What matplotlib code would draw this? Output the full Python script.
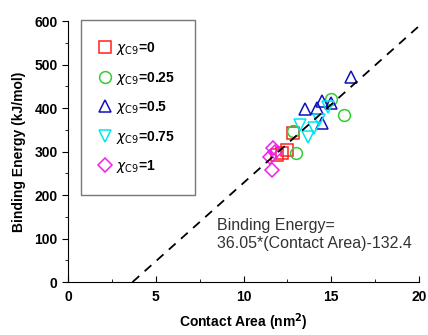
import matplotlib
matplotlib.use("Agg")
import matplotlib.pyplot as plt
import numpy as np
from matplotlib.ticker import MultipleLocator

plt.rcParams['font.family'] = ['Liberation Sans', 'DejaVu Sans']

# data
x0 = [11.9, 12.2, 12.5, 12.8]
y0 = [292, 296, 303, 343]
x25 = [12.8, 13.0, 15.0, 15.7]
y25 = [347, 297, 422, 385]
x50 = [13.5, 14.2, 14.5, 15.0, 14.5, 16.1]
y50 = [397, 400, 417, 411, 365, 471]
x75 = [13.2, 13.7, 14.0, 14.8, 14.3]
y75 = [362, 333, 354, 403, 372]
x100 = [11.7, 11.5, 11.6, 11.8]
y100 = [308, 288, 257, 300]

slope, intercept = 36.05, -132.4
labels = [r'$\chi_{\mathrm{C9}}$=0', r'$\chi_{\mathrm{C9}}$=0.25', r'$\chi_{\mathrm{C9}}$=0.5',
          r'$\chi_{\mathrm{C9}}$=0.75', r'$\chi_{\mathrm{C9}}$=1']

fig = plt.figure(figsize=(4.28, 3.35), dpi=100)
ax = fig.add_axes([0.159, 0.158, 0.820, 0.779])

series = [(x0, y0, 's', '#ff2020'), (x25, y25, 'o', '#33cc33'), (x50, y50, '^', '#1010c0'),
          (x75, y75, 'v', '#00e5ee'), (x100, y100, 'D', '#ee20ee')]
for (xs, ys, m, c), lab in zip(series, labels):
    ms = 7 if m == 'D' else 8.5
    ax.plot(xs, ys, linestyle='none', marker=m, markersize=ms, markerfacecolor='none',
            markeredgecolor=c, markeredgewidth=1.1, label=lab)

xl = np.array([-intercept / slope, 20])
ax.plot(xl, slope * xl + intercept, '--', color='black', lw=1.3, dashes=(5, 4))

ax.set_xlim(0, 20)
ax.set_ylim(0, 600)
ax.xaxis.set_major_locator(MultipleLocator(5))
ax.xaxis.set_minor_locator(MultipleLocator(2.5))
ax.yaxis.set_major_locator(MultipleLocator(100))
ax.yaxis.set_minor_locator(MultipleLocator(50))
ax.spines['top'].set_visible(False)
ax.spines['right'].set_visible(False)
ax.tick_params(axis='x', which='both', direction='in', pad=6)
ax.tick_params(axis='y', which='both', direction='out')
ax.tick_params(which='major', length=4, labelsize=10)
ax.tick_params(which='minor', length=2)
for t in ax.get_xticklabels() + ax.get_yticklabels():
    t.set_fontweight('bold')

ax.set_xlabel(r'Contact Area (nm$^\mathbf{2}$)', fontsize=10, fontweight='bold', labelpad=5)
ax.set_ylabel('Binding Energy (kJ/mol)', fontsize=10, fontweight='bold', labelpad=6)

ax.text(8.5, 147, 'Binding Energy=\n36.05*(Contact Area)-132.4', fontsize=11.5,
        color='#333333', linespacing=1.2, va='top')

leg = ax.legend(loc='upper left', bbox_to_anchor=(0.037, 1.004), borderaxespad=0,
                frameon=True, fancybox=False, edgecolor='#555555',
                prop={'weight': 'bold', 'size': 10}, handletextpad=0.45, borderpad=1.45,
                labelspacing=0.9, handlelength=0.6)
leg.get_frame().set_linewidth(1.0)

fig.savefig('out.png', dpi=100)
